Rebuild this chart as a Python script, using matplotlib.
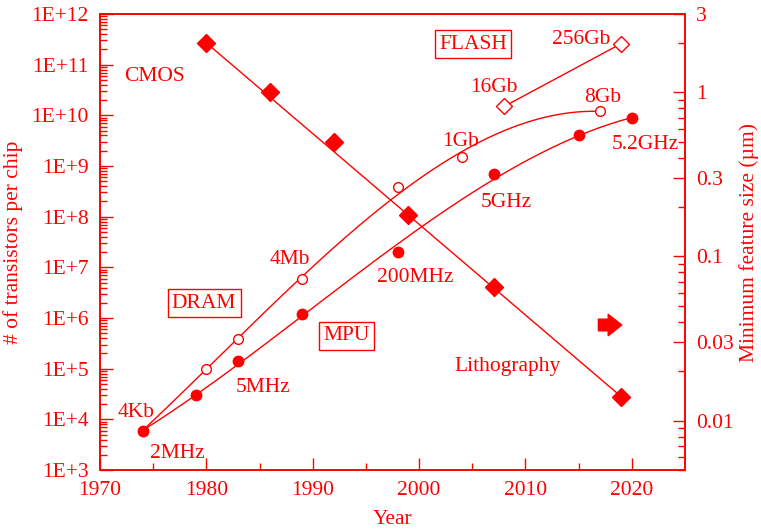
import matplotlib
matplotlib.use('Agg')
import matplotlib.pyplot as plt
import numpy as np
from matplotlib.ticker import FuncFormatter, LogLocator, NullFormatter, FixedLocator

# data
dram_years = [1974, 1980, 1983, 1989, 1998, 2004, 2017]
dram_trans = [6.0e3, 1.0e5, 3.8e5, 6.0e6, 3.8e8, 1.5e9, 1.2e10]

mpu_years = [1974, 1979, 1983, 1989, 1998, 2007, 2015, 2020]
mpu_trans = [6.0e3, 3.0e4, 1.4e5, 1.2e6, 2.0e7, 7.0e8, 4.0e9, 9.0e9]

flash_years = [2008, 2019]
flash_trans = [1.5e10, 2.6e11]

litho_years = [1980, 1986, 1992, 1999, 2007, 2019]
litho_size = [2.0, 1.0, 0.5, 0.18, 0.065, 0.014]

RED = '#ff0000'
FS = 15.5

plt.rcParams['font.family'] = ['Liberation Serif', 'DejaVu Serif']
plt.rcParams['font.size'] = FS

fig = plt.figure(figsize=(7.61, 5.32), dpi=100)
ax = fig.add_axes([0.1314, 0.1165, 0.7687, 0.8572])
ax2 = ax.twinx()

def trend(years, vals, deg):
    # smooth trend line in log space, pinned harder to the end points
    w = np.ones(len(years))
    w[0] = w[-1] = 4
    c = np.polyfit(years, np.log10(vals), deg, w=w)
    xs = np.linspace(years[0], years[-1], 200)
    return xs, 10 ** np.polyval(c, xs)

# DRAM
xs, ys = trend(dram_years, dram_trans, 3)
ax.plot(xs, ys, color=RED, lw=1.0)
ax.plot(dram_years, dram_trans, 'o', ms=7, mfc='white', mec=RED, mew=1.0)

# MPU
xs, ys = trend(mpu_years, mpu_trans, 3)
ax.plot(xs, ys, color=RED, lw=1.0)
ax.plot(mpu_years, mpu_trans, 'o', ms=7.5, color=RED)

# FLASH
ax.plot(flash_years, flash_trans, color=RED, lw=1.0)
ax.plot(flash_years, flash_trans, 'D', ms=8, mfc='white', mec=RED, mew=1.0)

# Lithography (right axis), trend through first and last node
ax2.plot([litho_years[0], litho_years[-1]], [litho_size[0], litho_size[-1]], color=RED, lw=1.0)
ax2.plot(litho_years, litho_size, 'D', ms=9, color=RED)

ax.set_xlim(1970, 2025)
ax.set_yscale('log')
ax.set_ylim(1e3, 1e12)
ax2.set_yscale('log')
ax2.set_ylim(0.005, 3)

ax.set_xticks(np.arange(1970, 2021, 10))
ax.set_xticks(np.arange(1975, 2025, 10), minor=True)
ax.yaxis.set_major_locator(LogLocator(base=10, numticks=20))
ax.yaxis.set_minor_locator(LogLocator(base=10, subs=np.arange(2, 10), numticks=20))
ax.yaxis.set_major_formatter(FuncFormatter(lambda v, p: '1E+%d' % round(np.log10(v))))
ax.yaxis.set_minor_formatter(NullFormatter())

ax2.yaxis.set_major_locator(FixedLocator([0.01, 0.03, 0.1, 0.3, 1, 3]))
ax2.yaxis.set_major_formatter(FuncFormatter(lambda v, p: '%g' % v))
ax2.yaxis.set_minor_locator(LogLocator(base=10, subs=np.arange(2, 10), numticks=20))
ax2.yaxis.set_minor_formatter(NullFormatter())

for a in (ax, ax2):
    for s in a.spines.values():
        s.set_color(RED)
        s.set_linewidth(1.2)
    a.tick_params(which='both', direction='in', colors=RED, labelcolor=RED, labelsize=FS)
    a.tick_params(which='major', length=9, width=1)
    a.tick_params(which='minor', length=5, width=1)
ax.tick_params(axis='y', pad=8)
ax2.tick_params(axis='y', pad=8)
ax.tick_params(axis='x', pad=8)

ax.set_xlabel('Year', color=RED, fontsize=FS, labelpad=7)
ax.set_ylabel('# of transistors per chip', color=RED, fontsize=FS, labelpad=6)
ax2.set_ylabel('Minimum feature size (\u00b5m)', color=RED, fontsize=FS, rotation=90, labelpad=4)

box = dict(boxstyle='square,pad=0.2', fc='white', ec=RED, lw=1.0)
labels = [
    ('CMOS', 0.094, 0.862, 'center', None),
    ('FLASH', 0.638, 0.934, 'center', box),
    ('256Gb', 0.872, 0.943, 'right', None),
    ('16Gb', 0.674, 0.838, 'center', None),
    ('8Gb', 0.860, 0.816, 'center', None),
    ('1Gb', 0.617, 0.721, 'center', None),
    ('5.2GHz', 0.932, 0.713, 'center', None),
    ('5GHz', 0.694, 0.586, 'center', None),
    ('4Mb', 0.325, 0.461, 'center', None),
    ('200MHz', 0.538, 0.423, 'center', None),
    ('DRAM', 0.178, 0.366, 'center', box),
    ('MPU', 0.422, 0.294, 'center', box),
    ('5MHz', 0.279, 0.180, 'center', None),
    ('4Kb', 0.062, 0.127, 'center', None),
    ('2MHz', 0.133, 0.037, 'center', None),
    ('Lithography', 0.697, 0.226, 'center', None),
]
for txt, fx, fy, ha, bb in labels:
    ax2.text(fx, fy, txt, transform=ax.transAxes, ha=ha, va='center',
             color=RED, fontsize=FS, bbox=bb, zorder=5)

# block arrow pointing at the lithography axis
ax2.annotate('', xy=(0.892, 0.318), xytext=(0.852, 0.318), xycoords='axes fraction',
             arrowprops=dict(arrowstyle='simple,head_length=0.7,head_width=1.1,tail_width=0.6',
                             color=RED, mutation_scale=14, shrinkA=0, shrinkB=0))

fig.savefig('out.png', dpi=100)
